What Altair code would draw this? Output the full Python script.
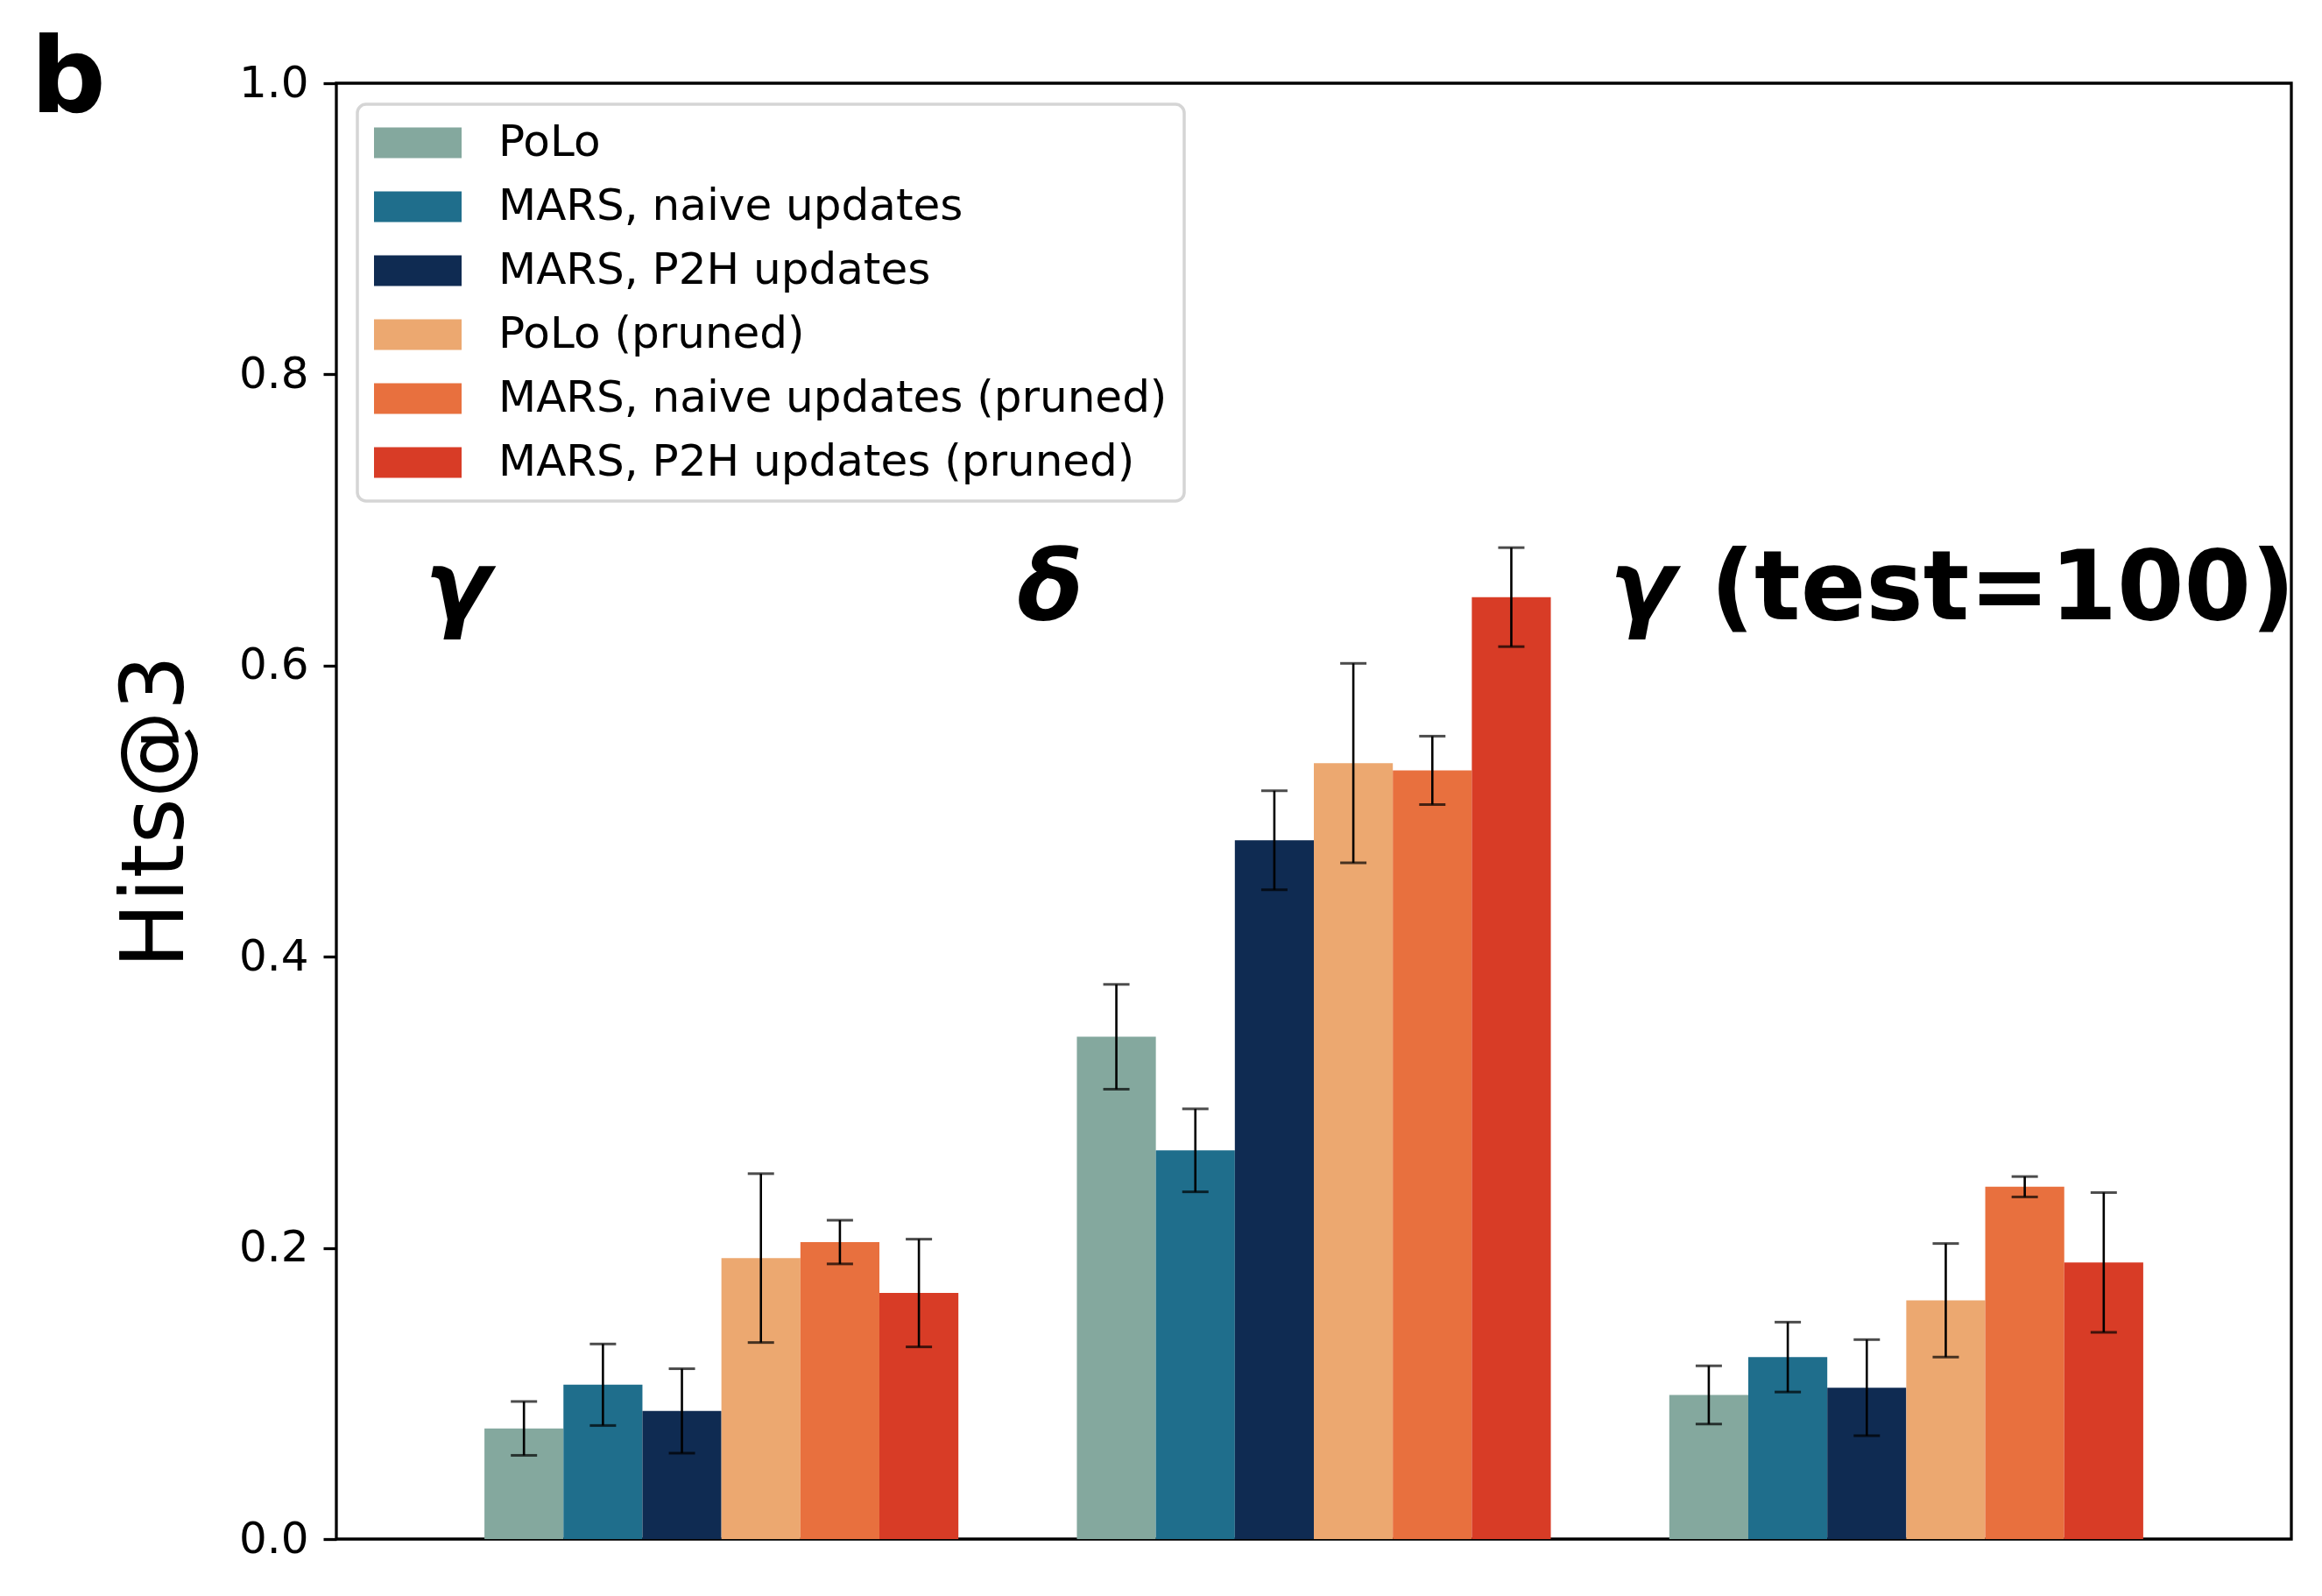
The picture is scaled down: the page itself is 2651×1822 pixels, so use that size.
import altair as alt
import pandas as pd

# Benchmark groups (x categories) and methods (bar series)
groups = ["γ", "δ", "γ (test=100)"]
series = [
    "PoLo",
    "MARS, naive updates",
    "MARS, P2H updates",
    "PoLo (pruned)",
    "MARS, naive updates (pruned)",
    "MARS, P2H updates (pruned)",
]
colors = ["#84A89E", "#1F6E8C", "#0F2B52", "#ECA870", "#E8703E", "#D83C26"]

# Mean Hits@3 per method, one value per group
mean_polo = [0.076, 0.345, 0.099]
mean_naive = [0.106, 0.267, 0.125]
mean_p2h = [0.088, 0.480, 0.104]
mean_polo_pruned = [0.193, 0.533, 0.164]
mean_naive_pruned = [0.204, 0.528, 0.242]
mean_p2h_pruned = [0.169, 0.647, 0.190]

# Standard deviation of Hits@3 per method, one value per group
std_polo = [0.0185, 0.036, 0.020]
std_naive = [0.028, 0.0285, 0.024]
std_p2h = [0.029, 0.034, 0.033]
std_polo_pruned = [0.058, 0.0685, 0.039]
std_naive_pruned = [0.015, 0.0235, 0.007]
std_p2h_pruned = [0.037, 0.034, 0.048]

means = [mean_polo, mean_naive, mean_p2h, mean_polo_pruned, mean_naive_pruned, mean_p2h_pruned]
stds = [std_polo, std_naive, std_p2h, std_polo_pruned, std_naive_pruned, std_p2h_pruned]

rows = []
for name, m_list, s_list in zip(series, means, stds):
    for g, m, s in zip(groups, m_list, s_list):
        rows.append({"group": g, "series": name, "hits": m, "lo": m - s, "hi": m + s})
df = pd.DataFrame(rows)

labels = pd.DataFrame({
    "group": groups,
    "symbol": [g.split(" ", 1)[0] for g in groups],
    "suffix": [g.split(" ", 1)[1] if " " in g else "" for g in groups],
})

FONT = "DejaVu Sans"
x_scale = alt.Scale(domain=groups, paddingInner=0.2, paddingOuter=0.25)
y_scale = alt.Scale(domain=[0, 1], nice=False, zero=True)
y_axis = alt.Axis(
    values=[0, 0.2, 0.4, 0.6, 0.8, 1.0],
    format=".1f",
    grid=False,
    domain=False,
    tickSize=15,
    tickWidth=3.3,
    tickColor="black",
    labelPadding=17,
    labelFontSize=50,
    labelFont=FONT,
    labelColor="black",
    titleFontSize=100,
    titleFont=FONT,
    titleFontWeight="normal",
    titleColor="black",
    titlePadding=43,
)
x_off = alt.XOffset("series:N", sort=series, scale=alt.Scale(paddingInner=0, paddingOuter=0))

base = alt.Chart(df)

# Legend swatch: a wide rectangle (2em x 0.7em at a 50px label size)
swatch = "M-2,-0.7L2,-0.7L2,0.7L-2,0.7Z"

bars = base.mark_bar().encode(
    x=alt.X("group:N", sort=groups, scale=x_scale, axis=None),
    xOffset=x_off,
    y=alt.Y("hits:Q", scale=y_scale, axis=y_axis, title="Hits@3"),
    color=alt.Color(
        "series:N",
        sort=series,
        scale=alt.Scale(domain=series, range=colors),
        legend=alt.Legend(
            title=None,
            orient="top-left",
            offset=24,
            symbolType=swatch,
            symbolSize=2500,
            symbolOffset=25,
            symbolStrokeWidth=0,
            symbolOpacity=1,
            labelFontSize=50,
            labelFont=FONT,
            labelColor="black",
            labelOffset=67,
            labelLimit=3000,
            rowPadding=23,
            padding=19,
            strokeColor="#d5d5d5",
            fillColor="white",
            cornerRadius=10,
        ),
    ),
)

err = base.mark_rule(color="black", strokeWidth=2.6).encode(
    x=alt.X("group:N", sort=groups, scale=x_scale, axis=None),
    xOffset=x_off,
    y=alt.Y("lo:Q", scale=y_scale, axis=y_axis, title="Hits@3"),
    y2="hi:Q",
)

cap_hi = base.mark_tick(color="black", size=30, thickness=3).encode(
    x=alt.X("group:N", sort=groups, scale=x_scale, axis=None),
    xOffset=x_off,
    y=alt.Y("hi:Q", scale=y_scale, axis=y_axis, title="Hits@3"),
)
cap_lo = base.mark_tick(color="black", size=30, thickness=3).encode(
    x=alt.X("group:N", sort=groups, scale=x_scale, axis=None),
    xOffset=x_off,
    y=alt.Y("lo:Q", scale=y_scale, axis=y_axis, title="Hits@3"),
)

label_pos = dict(
    x=alt.X("group:N", sort=groups, scale=x_scale, axis=None, bandPosition=0),
    y=alt.YDatum(0.632, scale=y_scale, axis=y_axis, title="Hits@3"),
)
group_symbol = alt.Chart(labels).mark_text(
    align="left", baseline="alphabetic", font=FONT, fontSize=110,
    fontWeight="bold", fontStyle="italic", color="black", dx=-68,
).encode(text="symbol:N", **label_pos)
group_suffix = alt.Chart(labels).mark_text(
    align="left", baseline="alphabetic", font=FONT, fontSize=110,
    fontWeight="bold", color="black", dx=47,
).encode(text="suffix:N", **label_pos)

panel = alt.Chart(pd.DataFrame({"panel": ["b"]})).mark_text(
    align="left", baseline="alphabetic", font=FONT, fontSize=120,
    fontWeight="bold", color="black",
).encode(text="panel:N", x=alt.value(-349), y=alt.value(33))

chart = (
    alt.layer(bars, err, cap_hi, cap_lo, group_symbol, group_suffix, panel)
    .properties(
        width=2232,
        height=1662,
        autosize=alt.AutoSizeParams(type="none"),
        padding={"left": 384, "top": 95, "right": 35, "bottom": 65},
        background="white",
    )
    .configure_view(stroke="black", strokeWidth=3.3)
    .configure_legend(strokeWidth=3.5)
)

chart.save("out.html", embed_options={"renderer": "svg", "actions": False})
